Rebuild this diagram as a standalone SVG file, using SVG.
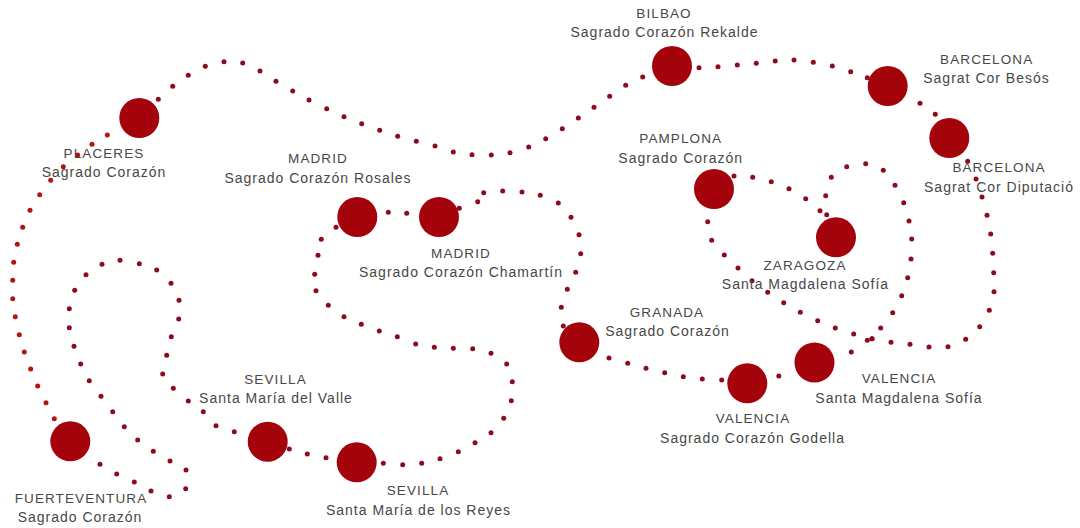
<svg xmlns="http://www.w3.org/2000/svg" width="1080" height="528" viewBox="0 0 1080 528">
<defs>
<style>
.node circle{fill:#a4030c}
.t1{font-family:"Liberation Sans",Arial,sans-serif;font-size:13.5px;letter-spacing:1.1px;fill:#474747;text-anchor:middle}
.t2{font-family:"Liberation Sans",Arial,sans-serif;font-size:14px;letter-spacing:1px;fill:#474747;text-anchor:middle}
.route{fill:none;stroke:none;marker-start:url(#dot);marker-mid:url(#dot);marker-end:url(#dot)}
.route.bright{marker-start:url(#dotb);marker-mid:url(#dotb);marker-end:url(#dotb)}
</style>
<marker id="dot" markerUnits="userSpaceOnUse" viewBox="0 0 6 6" refX="3" refY="3" markerWidth="6" markerHeight="6"><circle cx="3" cy="3" r="2.5" fill="#8d0b1d"/></marker>
<marker id="dotb" markerUnits="userSpaceOnUse" viewBox="0 0 6 6" refX="3" refY="3" markerWidth="6" markerHeight="6"><circle cx="3" cy="3" r="2.5" fill="#b3140f"/></marker>
</defs>
<rect width="1080" height="528" fill="#ffffff"/>
<g id="connectors">
<polyline class="route bright" points="54.3,418.7 46,402.7 37.7,386 30.7,369 24.3,352 19.3,334.7 15.3,316.7 12.7,298.7 12.7,280.3 13.7,262.3 17.3,244.3 22.7,227.3 30,210.3 39.7,194.7 50.7,180.3 63.3,166.7 77.7,155 92,144.3 107.3,135"/>
<polyline class="route" points="158.3,99.3 172.7,86.3 188.3,75.3 205.3,66.3 224,61.7 242.7,63 260,71 276,81.3 292.7,91 309,100 326.7,108.7 344,116.7 361.7,123.7 379.7,130.3 397.7,136.3 416.3,141.3 435,146 453.3,152 472,154.7 491.3,155 510,152.7 528.7,147 545.7,138.7 562.3,128.7 578.3,118 594,107.3 609.7,96.3 625.7,85.3 642.7,77"/>
<polyline class="route" points="699,67.7 718,66.7 737.3,65 756.3,63.3 775.2,61 794,60 813.3,62.3 832.3,66 850.7,71.7 867.3,77.7"/>
<polyline class="route" points="920,103.3 935.3,114.3"/>
<polyline class="route" points="967.7,161.3 976,179 982,197 987,215.3 990.7,234 992.7,253.3 993.7,272.7 994,291.7 989.3,310.3 979.7,326.7 965.7,339.3 948,346.7 929,347 910,344.3 891,342.3 872,338.7 851.3,352"/>
<polyline class="route" points="778.8,376"/>
<polyline class="route" points="721.7,380 702.3,379 683.3,376.7 664.7,372.7 646,368.3 627.7,363.3 609,358"/>
<polyline class="route" points="563.3,326 561.3,307.3 567.3,289.3 575.7,272.3 580.7,253.7 579,234.7 571,217.3 558.3,203 540.3,195.3 522,192 502.7,191 483.7,192.7 477.7,201.7 459.3,208.3"/>
<polyline class="route" points="406.7,213.3 388.3,212.3"/>
<polyline class="route" points="336,227.3 321.3,239.3 318,255.3 314.7,274.3 316,290.7 328.3,305.3 344,316.7 361.3,324.3 379.3,331 397.3,336.7 415.7,344 434.3,347.3 453.3,348.3 472.7,348.7 491,353.3 506.7,364 512.3,381.7 511.3,400.7 503.7,418.3 491,432.7 475,442.7 458.3,451.7 440,458.7 421.7,463.3 402.7,464.7 383.3,463.3"/>
<polyline class="route" points="326,457.7 307.3,454 289.3,449"/>
<polyline class="route" points="234.3,431.7 216,425.7 203.3,411.7 188.3,401 173.3,388.3 162.7,374 166.7,355.3 171.3,336.7 178.7,319 179,300.3 171,283.3 156.7,270 139.3,263.7 120,260.3 102,264.3 86,274.7 74.7,290.3 69.3,308.7 69.3,327.7 74,346.3 80.7,364 89.3,380.7 101,396.3 112.7,411.7 124.3,426.7 137.7,440 153.3,451.3 170,461 186,470 185.7,488.7 169.3,496.7 151,491 134.3,482 116.7,474 100,464.3"/>
<polyline class="route" points="867.3,340.3 853.7,334 835.3,328 817.7,320.7 800.3,312.3 783.7,302.7 767.7,292.3 752,280.7 738,268 724.3,255 711.7,240.3 707.7,221.7"/>
<polyline class="route" points="734,176 752.7,177.3 771.3,181.7 789,188.7 805.7,198.7 820,210.7"/>
<polyline class="route" points="826.7,214.7 825.7,195.7 831.3,177.3 846.7,166.7 865.7,163.7 883.3,170.3 895,185.3 903.7,202.7 909,221 911.7,239 911,259 907.7,277.7 901.7,295.7 892.7,312.7 880.7,328 872,338.7"/>
</g>
<g id="fuerteventura" class="node"><circle cx="70.3" cy="441.3" r="20"/><text class="t1" x="81" y="502.5">FUERTEVENTURA</text><text class="t2" x="80" y="521.5">Sagrado Corazón</text></g>
<g id="placeres" class="node"><circle cx="139.3" cy="118" r="20"/><text class="t1" x="104" y="158">PLACERES</text><text class="t2" x="104" y="177">Sagrado Corazón</text></g>
<g id="madrid-rosales" class="node"><circle cx="357.3" cy="217" r="20"/><text class="t1" x="318" y="162.5">MADRID</text><text class="t2" x="318" y="182.5">Sagrado Corazón Rosales</text></g>
<g id="madrid-chamartin" class="node"><circle cx="439" cy="217" r="20"/><text class="t1" x="461" y="257.5">MADRID</text><text class="t2" x="461" y="276.5">Sagrado Corazón Chamartín</text></g>
<g id="sevilla-valle" class="node"><circle cx="267.7" cy="441.7" r="20"/><text class="t1" x="275.5" y="384">SEVILLA</text><text class="t2" x="276" y="403">Santa María del Valle</text></g>
<g id="sevilla-reyes" class="node"><circle cx="356.7" cy="462.3" r="20"/><text class="t1" x="418" y="495">SEVILLA</text><text class="t2" x="418.5" y="515">Santa María de los Reyes</text></g>
<g id="granada" class="node"><circle cx="579.3" cy="342.3" r="20"/><text class="t1" x="667" y="316.5">GRANADA</text><text class="t2" x="667.5" y="335.5">Sagrado Corazón</text></g>
<g id="valencia-godella" class="node"><circle cx="747.3" cy="383.3" r="20"/><text class="t1" x="753" y="423">VALENCIA</text><text class="t2" x="752.5" y="442.5">Sagrado Corazón Godella</text></g>
<g id="valencia-sm" class="node"><circle cx="814.5" cy="362.5" r="20"/><text class="t1" x="899" y="383">VALENCIA</text><text class="t2" x="899" y="402.5">Santa Magdalena Sofía</text></g>
<g id="zaragoza" class="node"><circle cx="836" cy="237.3" r="20"/><text class="t1" x="805" y="270">ZARAGOZA</text><text class="t2" x="805.5" y="289">Santa Magdalena Sofía</text></g>
<g id="pamplona" class="node"><circle cx="714" cy="189" r="20"/><text class="t1" x="680.7" y="143">PAMPLONA</text><text class="t2" x="680.7" y="162.5">Sagrado Corazón</text></g>
<g id="bilbao" class="node"><circle cx="672" cy="66" r="20"/><text class="t1" x="664" y="18">BILBAO</text><text class="t2" x="664.5" y="37">Sagrado Corazón Rekalde</text></g>
<g id="barcelona-besos" class="node"><circle cx="887.7" cy="86" r="20"/><text class="t1" x="986.7" y="64">BARCELONA</text><text class="t2" x="986.5" y="82.5">Sagrat Cor Besós</text></g>
<g id="barcelona-diputacio" class="node"><circle cx="949.3" cy="138" r="20"/><text class="t1" x="999" y="172">BARCELONA</text><text class="t2" x="999" y="191.5">Sagrat Cor Diputació</text></g>
</svg>
